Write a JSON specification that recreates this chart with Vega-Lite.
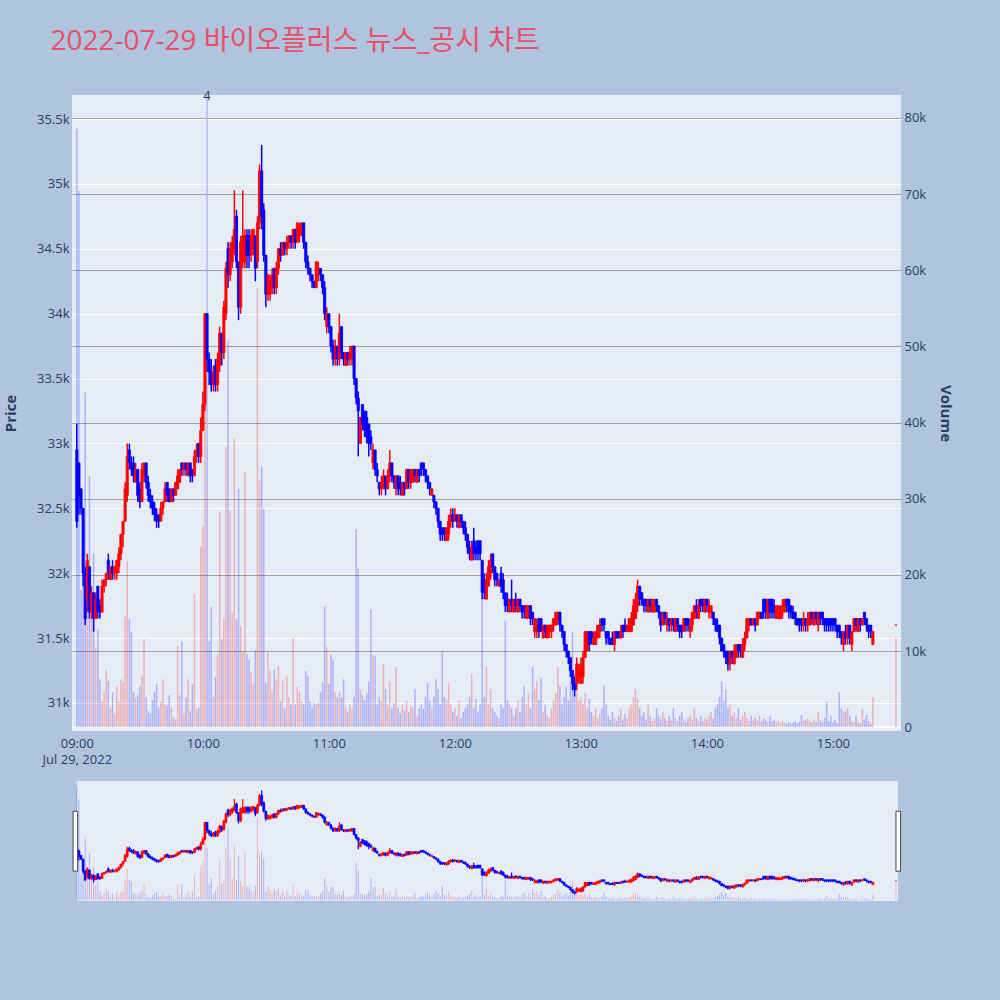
{
  "$schema": "https://vega.github.io/schema/vega-lite/v6.json",
  "background": "#b0c4de",
  "padding": {"left": 3, "top": 28, "right": 47, "bottom": 100},
  "title": {
    "text": "2022-07-29 바이오플러스 뉴스_공시 차트",
    "anchor": "start",
    "dx": 47,
    "offset": 34,
    "fontSize": 28,
    "fontWeight": "normal",
    "font": "Open Sans, Noto Sans CJK KR",
    "color": "#e8506a"
  },
  "config": {
    "view": {"stroke": null},
    "axis": {"labelFont": "Open Sans", "titleFont": "Open Sans", "labelColor": "#2a3f5f", "titleColor": "#2a3f5f"}
  },
  "spacing": 15,
  "datasets": {
    "k": [
      {"m":0,"o":32950,"h":33150,"l":32350,"c":32400,"v":78600},
      {"m":1,"o":32850,"h":32850,"l":32450,"c":32600,"v":70400},
      {"m":2,"o":32650,"h":32650,"l":32450,"c":32500,"v":18000},
      {"m":3,"o":32500,"h":32500,"l":31900,"c":32000,"v":26000},
      {"m":4,"o":32000,"h":32050,"l":31600,"c":31650,"v":44000},
      {"m":5,"o":31800,"h":32150,"l":31700,"c":32100,"v":22800},
      {"m":6,"o":32050,"h":32050,"l":31650,"c":31700,"v":33000},
      {"m":7,"o":31700,"h":31900,"l":31650,"c":31850,"v":14600},
      {"m":8,"o":31850,"h":31850,"l":31550,"c":31650,"v":22800},
      {"m":9,"o":31650,"h":31850,"l":31650,"c":31800,"v":10500},
      {"m":10,"o":31900,"h":31900,"l":31650,"c":31700,"v":12900},
      {"m":11,"o":31750,"h":31800,"l":31650,"c":31700,"v":6300},
      {"m":12,"o":31700,"h":31950,"l":31700,"c":31900,"v":3400},
      {"m":13,"o":31900,"h":31950,"l":31850,"c":31950,"v":4700},
      {"m":14,"o":31950,"h":32000,"l":31900,"c":32000,"v":7600},
      {"m":15,"o":32100,"h":32150,"l":31950,"c":32000,"v":6100},
      {"m":16,"o":31950,"h":32050,"l":31950,"c":32050,"v":2600},
      {"m":17,"o":32050,"h":32100,"l":31950,"c":32000,"v":4600},
      {"m":18,"o":32000,"h":32050,"l":31950,"c":32050,"v":1800},
      {"m":19,"o":32000,"h":32100,"l":31950,"c":32100,"v":5400},
      {"m":20,"o":32050,"h":32200,"l":32000,"c":32150,"v":3400},
      {"m":21,"o":32150,"h":32300,"l":32100,"c":32300,"v":6300},
      {"m":22,"o":32300,"h":32400,"l":32200,"c":32400,"v":5900},
      {"m":23,"o":32400,"h":32700,"l":32400,"c":32650,"v":14500},
      {"m":24,"o":32600,"h":33000,"l":32550,"c":32900,"v":21800},
      {"m":25,"o":32950,"h":33000,"l":32800,"c":32850,"v":14200},
      {"m":26,"o":32850,"h":32900,"l":32750,"c":32800,"v":12500},
      {"m":27,"o":32850,"h":32900,"l":32700,"c":32750,"v":4600},
      {"m":28,"o":32700,"h":32850,"l":32700,"c":32800,"v":3900},
      {"m":29,"o":32800,"h":32800,"l":32550,"c":32600,"v":4200},
      {"m":30,"o":32650,"h":32700,"l":32500,"c":32550,"v":5400},
      {"m":31,"o":32550,"h":32850,"l":32550,"c":32800,"v":6700},
      {"m":32,"o":32750,"h":32850,"l":32700,"c":32850,"v":11600},
      {"m":33,"o":32850,"h":32850,"l":32650,"c":32700,"v":3900},
      {"m":34,"o":32700,"h":32750,"l":32550,"c":32600,"v":2100},
      {"m":35,"o":32600,"h":32650,"l":32500,"c":32550,"v":1800},
      {"m":36,"o":32550,"h":32600,"l":32450,"c":32500,"v":3600},
      {"m":37,"o":32500,"h":32550,"l":32400,"c":32450,"v":4600},
      {"m":38,"o":32450,"h":32500,"l":32350,"c":32400,"v":5700},
      {"m":39,"o":32450,"h":32450,"l":32350,"c":32400,"v":2600},
      {"m":40,"o":32400,"h":32550,"l":32400,"c":32500,"v":3400},
      {"m":41,"o":32500,"h":32550,"l":32450,"c":32550,"v":6300},
      {"m":42,"o":32550,"h":32700,"l":32550,"c":32650,"v":3000},
      {"m":43,"o":32700,"h":32700,"l":32550,"c":32600,"v":2900},
      {"m":44,"o":32650,"h":32650,"l":32550,"c":32550,"v":4200},
      {"m":45,"o":32550,"h":32650,"l":32550,"c":32650,"v":2600},
      {"m":46,"o":32650,"h":32650,"l":32550,"c":32600,"v":1300},
      {"m":47,"o":32600,"h":32700,"l":32600,"c":32700,"v":1000},
      {"m":48,"o":32650,"h":32800,"l":32650,"c":32750,"v":10700},
      {"m":49,"o":32700,"h":32800,"l":32700,"c":32800,"v":4200},
      {"m":50,"o":32850,"h":32850,"l":32750,"c":32800,"v":11300},
      {"m":51,"o":32800,"h":32850,"l":32750,"c":32850,"v":1800},
      {"m":52,"o":32850,"h":32850,"l":32750,"c":32800,"v":3900},
      {"m":53,"o":32750,"h":32850,"l":32750,"c":32850,"v":6300},
      {"m":54,"o":32850,"h":32850,"l":32700,"c":32750,"v":2100},
      {"m":55,"o":32800,"h":32800,"l":32700,"c":32750,"v":5700},
      {"m":56,"o":32750,"h":32950,"l":32750,"c":32900,"v":17500},
      {"m":57,"o":32900,"h":33000,"l":32850,"c":32950,"v":2400},
      {"m":58,"o":33000,"h":33000,"l":32850,"c":32900,"v":2600},
      {"m":59,"o":32900,"h":33200,"l":32850,"c":33100,"v":23700},
      {"m":60,"o":33100,"h":33400,"l":33100,"c":33300,"v":26500},
      {"m":61,"o":33300,"h":34000,"l":33250,"c":34000,"v":45000},
      {"m":62,"o":34000,"h":34000,"l":33550,"c":33650,"v":36600},
      {"m":63,"o":33650,"h":33700,"l":33450,"c":33550,"v":11300},
      {"m":64,"o":33550,"h":33650,"l":33400,"c":33450,"v":15800},
      {"m":65,"o":33450,"h":33600,"l":33400,"c":33550,"v":4000},
      {"m":66,"o":33600,"h":33650,"l":33400,"c":33450,"v":6600},
      {"m":67,"o":33450,"h":33700,"l":33400,"c":33650,"v":9600},
      {"m":68,"o":33600,"h":33900,"l":33550,"c":33850,"v":28300},
      {"m":69,"o":33850,"h":33850,"l":33600,"c":33700,"v":11600},
      {"m":70,"o":33700,"h":34100,"l":33650,"c":34050,"v":14200},
      {"m":71,"o":34000,"h":34400,"l":33950,"c":34350,"v":36800},
      {"m":72,"o":34500,"h":34550,"l":34200,"c":34300,"v":50800},
      {"m":73,"o":34300,"h":34550,"l":34250,"c":34500,"v":28400},
      {"m":74,"o":34400,"h":34600,"l":34350,"c":34550,"v":15100},
      {"m":75,"o":34500,"h":34950,"l":34450,"c":34650,"v":37900},
      {"m":76,"o":34750,"h":34800,"l":34350,"c":34400,"v":14200},
      {"m":77,"o":34400,"h":34400,"l":33950,"c":34050,"v":31300},
      {"m":78,"o":34050,"h":34600,"l":34000,"c":34550,"v":13300},
      {"m":79,"o":34400,"h":34950,"l":34350,"c":34600,"v":9900},
      {"m":80,"o":34400,"h":34650,"l":34350,"c":34600,"v":33600},
      {"m":81,"o":34600,"h":34650,"l":34350,"c":34450,"v":9600},
      {"m":82,"o":34600,"h":34650,"l":34350,"c":34450,"v":8900},
      {"m":83,"o":34450,"h":34650,"l":34400,"c":34600,"v":7200},
      {"m":84,"o":34500,"h":34650,"l":34450,"c":34650,"v":5700},
      {"m":85,"o":34600,"h":34600,"l":34250,"c":34350,"v":10100},
      {"m":86,"o":34400,"h":34750,"l":34350,"c":34700,"v":57600},
      {"m":87,"o":34700,"h":35150,"l":34650,"c":35100,"v":32400},
      {"m":88,"o":35100,"h":35300,"l":34650,"c":34750,"v":34200},
      {"m":89,"o":34800,"h":34850,"l":34400,"c":34450,"v":28700},
      {"m":90,"o":34450,"h":34450,"l":34050,"c":34150,"v":5900},
      {"m":91,"o":34150,"h":34300,"l":34100,"c":34300,"v":9900},
      {"m":92,"o":34150,"h":34300,"l":34100,"c":34250,"v":7600},
      {"m":93,"o":34200,"h":34350,"l":34150,"c":34300,"v":4700},
      {"m":94,"o":34350,"h":34350,"l":34150,"c":34200,"v":7600},
      {"m":95,"o":34200,"h":34400,"l":34150,"c":34350,"v":6300},
      {"m":96,"o":34350,"h":34500,"l":34300,"c":34500,"v":8000},
      {"m":97,"o":34500,"h":34550,"l":34400,"c":34450,"v":3400},
      {"m":98,"o":34450,"h":34550,"l":34450,"c":34550,"v":6100},
      {"m":99,"o":34550,"h":34550,"l":34450,"c":34500,"v":2500},
      {"m":100,"o":34500,"h":34600,"l":34450,"c":34550,"v":6700},
      {"m":101,"o":34550,"h":34600,"l":34500,"c":34600,"v":3900},
      {"m":102,"o":34600,"h":34600,"l":34500,"c":34550,"v":3000},
      {"m":103,"o":34550,"h":34650,"l":34500,"c":34650,"v":11700},
      {"m":104,"o":34650,"h":34650,"l":34500,"c":34550,"v":3000},
      {"m":105,"o":34550,"h":34700,"l":34550,"c":34700,"v":5300},
      {"m":106,"o":34600,"h":34700,"l":34550,"c":34650,"v":4700},
      {"m":107,"o":34600,"h":34700,"l":34600,"c":34700,"v":3400},
      {"m":108,"o":34700,"h":34700,"l":34500,"c":34550,"v":3000},
      {"m":109,"o":34550,"h":34550,"l":34350,"c":34400,"v":7400},
      {"m":110,"o":34400,"h":34450,"l":34300,"c":34350,"v":6700},
      {"m":111,"o":34350,"h":34350,"l":34250,"c":34300,"v":3400},
      {"m":112,"o":34300,"h":34300,"l":34200,"c":34250,"v":2600},
      {"m":113,"o":34250,"h":34250,"l":34200,"c":34200,"v":3200},
      {"m":114,"o":34200,"h":34400,"l":34200,"c":34400,"v":3000},
      {"m":115,"o":34300,"h":34400,"l":34250,"c":34350,"v":3200},
      {"m":116,"o":34350,"h":34350,"l":34250,"c":34300,"v":4600},
      {"m":117,"o":34300,"h":34300,"l":34150,"c":34200,"v":5900},
      {"m":118,"o":34200,"h":34250,"l":33950,"c":34000,"v":15900},
      {"m":119,"o":33900,"h":34050,"l":33850,"c":34000,"v":10500},
      {"m":120,"o":34000,"h":34000,"l":33850,"c":33900,"v":5700},
      {"m":121,"o":33900,"h":33900,"l":33700,"c":33750,"v":9600},
      {"m":122,"o":33750,"h":33800,"l":33600,"c":33650,"v":8900},
      {"m":123,"o":33650,"h":33800,"l":33600,"c":33750,"v":4600},
      {"m":124,"o":33750,"h":33750,"l":33600,"c":33650,"v":3900},
      {"m":125,"o":33650,"h":34000,"l":33600,"c":33850,"v":4700},
      {"m":126,"o":33900,"h":33900,"l":33650,"c":33700,"v":3900},
      {"m":127,"o":33700,"h":33700,"l":33600,"c":33650,"v":6300},
      {"m":128,"o":33600,"h":33700,"l":33600,"c":33700,"v":2600},
      {"m":129,"o":33700,"h":33700,"l":33600,"c":33650,"v":2000},
      {"m":130,"o":33650,"h":33750,"l":33600,"c":33700,"v":3000},
      {"m":131,"o":33650,"h":33750,"l":33600,"c":33750,"v":2500},
      {"m":132,"o":33750,"h":33750,"l":33450,"c":33500,"v":4000},
      {"m":133,"o":33500,"h":33500,"l":33300,"c":33350,"v":26000},
      {"m":134,"o":33350,"h":33400,"l":32900,"c":33250,"v":20800},
      {"m":135,"o":33000,"h":33200,"l":33000,"c":33200,"v":5000},
      {"m":136,"o":33300,"h":33300,"l":33100,"c":33150,"v":4200},
      {"m":137,"o":33250,"h":33250,"l":33050,"c":33100,"v":3500},
      {"m":138,"o":33200,"h":33250,"l":33000,"c":33050,"v":4500},
      {"m":139,"o":33150,"h":33150,"l":32900,"c":33000,"v":6000},
      {"m":140,"o":33050,"h":33100,"l":32950,"c":33000,"v":15500},
      {"m":141,"o":32850,"h":33000,"l":32800,"c":32950,"v":9500},
      {"m":142,"o":32950,"h":32950,"l":32750,"c":32800,"v":9400},
      {"m":143,"o":32800,"h":32850,"l":32700,"c":32750,"v":3000},
      {"m":144,"o":32700,"h":32700,"l":32600,"c":32650,"v":4000},
      {"m":145,"o":32650,"h":32750,"l":32600,"c":32700,"v":3500},
      {"m":146,"o":32650,"h":32800,"l":32650,"c":32750,"v":8300},
      {"m":147,"o":32750,"h":32750,"l":32600,"c":32650,"v":5000},
      {"m":148,"o":32650,"h":32800,"l":32650,"c":32750,"v":3000},
      {"m":149,"o":32750,"h":32950,"l":32700,"c":32850,"v":6000},
      {"m":150,"o":32850,"h":32850,"l":32700,"c":32750,"v":2500},
      {"m":151,"o":32750,"h":32750,"l":32650,"c":32700,"v":3200},
      {"m":152,"o":32650,"h":32750,"l":32600,"c":32750,"v":7900},
      {"m":153,"o":32750,"h":32750,"l":32600,"c":32650,"v":2500},
      {"m":154,"o":32700,"h":32750,"l":32600,"c":32650,"v":1800},
      {"m":155,"o":32600,"h":32700,"l":32600,"c":32700,"v":3000},
      {"m":156,"o":32700,"h":32700,"l":32600,"c":32650,"v":2200},
      {"m":157,"o":32650,"h":32800,"l":32650,"c":32800,"v":3500},
      {"m":158,"o":32800,"h":32800,"l":32650,"c":32700,"v":2000},
      {"m":159,"o":32700,"h":32800,"l":32650,"c":32800,"v":2800},
      {"m":160,"o":32700,"h":32800,"l":32700,"c":32800,"v":2600},
      {"m":161,"o":32800,"h":32800,"l":32700,"c":32750,"v":5000},
      {"m":162,"o":32700,"h":32800,"l":32700,"c":32800,"v":1500},
      {"m":163,"o":32800,"h":32800,"l":32700,"c":32750,"v":2500},
      {"m":164,"o":32850,"h":32850,"l":32750,"c":32800,"v":3000},
      {"m":165,"o":32850,"h":32850,"l":32750,"c":32800,"v":2400},
      {"m":166,"o":32800,"h":32800,"l":32700,"c":32750,"v":4000},
      {"m":167,"o":32750,"h":32750,"l":32650,"c":32700,"v":5900},
      {"m":168,"o":32700,"h":32700,"l":32600,"c":32650,"v":3500},
      {"m":169,"o":32600,"h":32650,"l":32600,"c":32650,"v":2500},
      {"m":170,"o":32600,"h":32600,"l":32500,"c":32550,"v":4000},
      {"m":171,"o":32550,"h":32550,"l":32450,"c":32500,"v":6300},
      {"m":172,"o":32500,"h":32500,"l":32350,"c":32400,"v":5000},
      {"m":173,"o":32400,"h":32400,"l":32250,"c":32300,"v":3000},
      {"m":174,"o":32350,"h":32350,"l":32250,"c":32300,"v":10000},
      {"m":175,"o":32350,"h":32350,"l":32250,"c":32300,"v":4000},
      {"m":176,"o":32250,"h":32350,"l":32250,"c":32350,"v":3500},
      {"m":177,"o":32300,"h":32450,"l":32250,"c":32400,"v":5800},
      {"m":178,"o":32400,"h":32500,"l":32350,"c":32450,"v":3000},
      {"m":179,"o":32450,"h":32500,"l":32350,"c":32400,"v":2000},
      {"m":180,"o":32400,"h":32500,"l":32400,"c":32450,"v":2500},
      {"m":181,"o":32450,"h":32450,"l":32350,"c":32400,"v":1500},
      {"m":182,"o":32350,"h":32450,"l":32350,"c":32450,"v":3500},
      {"m":183,"o":32450,"h":32450,"l":32350,"c":32400,"v":1200},
      {"m":184,"o":32400,"h":32400,"l":32300,"c":32350,"v":2000},
      {"m":185,"o":32350,"h":32400,"l":32250,"c":32300,"v":2500},
      {"m":186,"o":32300,"h":32300,"l":32150,"c":32200,"v":3000},
      {"m":187,"o":32200,"h":32250,"l":32100,"c":32150,"v":4000},
      {"m":188,"o":32100,"h":32250,"l":32100,"c":32200,"v":7000},
      {"m":189,"o":32250,"h":32350,"l":32100,"c":32150,"v":2500},
      {"m":190,"o":32200,"h":32250,"l":32100,"c":32150,"v":3700},
      {"m":191,"o":32250,"h":32250,"l":32100,"c":32150,"v":2000},
      {"m":192,"o":32250,"h":32250,"l":32100,"c":32150,"v":3000},
      {"m":193,"o":32100,"h":32100,"l":31800,"c":31850,"v":18000},
      {"m":194,"o":31950,"h":32000,"l":31800,"c":31850,"v":4000},
      {"m":195,"o":31800,"h":32000,"l":31800,"c":31950,"v":8000},
      {"m":196,"o":31900,"h":32100,"l":31900,"c":32050,"v":3000},
      {"m":197,"o":32000,"h":32150,"l":31950,"c":32100,"v":5000},
      {"m":198,"o":32150,"h":32150,"l":32000,"c":32050,"v":2500},
      {"m":199,"o":32050,"h":32050,"l":31900,"c":31950,"v":2000},
      {"m":200,"o":32000,"h":32000,"l":31900,"c":31950,"v":1500},
      {"m":201,"o":31900,"h":31950,"l":31900,"c":31950,"v":1200},
      {"m":202,"o":32000,"h":32050,"l":31850,"c":31900,"v":3000},
      {"m":203,"o":31950,"h":32000,"l":31800,"c":31850,"v":2500},
      {"m":204,"o":31850,"h":31850,"l":31700,"c":31750,"v":14000},
      {"m":205,"o":31800,"h":31850,"l":31700,"c":31750,"v":3500},
      {"m":206,"o":31700,"h":31800,"l":31700,"c":31800,"v":3000},
      {"m":207,"o":31800,"h":31950,"l":31700,"c":31750,"v":2500},
      {"m":208,"o":31700,"h":31800,"l":31700,"c":31800,"v":1500},
      {"m":209,"o":31800,"h":31850,"l":31700,"c":31750,"v":2500},
      {"m":210,"o":31700,"h":31800,"l":31700,"c":31800,"v":3500},
      {"m":211,"o":31800,"h":31800,"l":31700,"c":31750,"v":2000},
      {"m":212,"o":31750,"h":31750,"l":31650,"c":31700,"v":4000},
      {"m":213,"o":31750,"h":31750,"l":31650,"c":31700,"v":5400},
      {"m":214,"o":31650,"h":31750,"l":31650,"c":31750,"v":3000},
      {"m":215,"o":31700,"h":31750,"l":31650,"c":31750,"v":4500},
      {"m":216,"o":31750,"h":31750,"l":31600,"c":31650,"v":2500},
      {"m":217,"o":31700,"h":31700,"l":31600,"c":31650,"v":7900},
      {"m":218,"o":31550,"h":31650,"l":31500,"c":31650,"v":5100},
      {"m":219,"o":31550,"h":31650,"l":31500,"c":31600,"v":6000},
      {"m":220,"o":31650,"h":31650,"l":31500,"c":31550,"v":3500},
      {"m":221,"o":31650,"h":31650,"l":31550,"c":31550,"v":6500},
      {"m":222,"o":31500,"h":31600,"l":31500,"c":31600,"v":2000},
      {"m":223,"o":31600,"h":31600,"l":31500,"c":31550,"v":3000},
      {"m":224,"o":31500,"h":31600,"l":31500,"c":31600,"v":1500},
      {"m":225,"o":31550,"h":31600,"l":31500,"c":31600,"v":1200},
      {"m":226,"o":31550,"h":31600,"l":31500,"c":31600,"v":2500},
      {"m":227,"o":31600,"h":31650,"l":31550,"c":31650,"v":3500},
      {"m":228,"o":31600,"h":31700,"l":31600,"c":31700,"v":4500},
      {"m":229,"o":31650,"h":31700,"l":31600,"c":31700,"v":7900},
      {"m":230,"o":31700,"h":31700,"l":31550,"c":31600,"v":5500},
      {"m":231,"o":31600,"h":31600,"l":31500,"c":31550,"v":3000},
      {"m":232,"o":31550,"h":31550,"l":31400,"c":31450,"v":4000},
      {"m":233,"o":31450,"h":31450,"l":31350,"c":31400,"v":5400},
      {"m":234,"o":31400,"h":31400,"l":31300,"c":31350,"v":3500},
      {"m":235,"o":31350,"h":31350,"l":31200,"c":31250,"v":6000},
      {"m":236,"o":31250,"h":31250,"l":31100,"c":31150,"v":12500},
      {"m":237,"o":31150,"h":31200,"l":31050,"c":31100,"v":7000},
      {"m":238,"o":31150,"h":31350,"l":31100,"c":31300,"v":5000},
      {"m":239,"o":31200,"h":31300,"l":31150,"c":31250,"v":3500},
      {"m":240,"o":31150,"h":31350,"l":31150,"c":31300,"v":4000},
      {"m":241,"o":31200,"h":31400,"l":31150,"c":31350,"v":3000},
      {"m":242,"o":31350,"h":31550,"l":31350,"c":31550,"v":4500},
      {"m":243,"o":31400,"h":31550,"l":31400,"c":31550,"v":2500},
      {"m":244,"o":31550,"h":31550,"l":31400,"c":31450,"v":3700},
      {"m":245,"o":31550,"h":31550,"l":31450,"c":31500,"v":2000},
      {"m":246,"o":31450,"h":31550,"l":31450,"c":31500,"v":1500},
      {"m":247,"o":31450,"h":31550,"l":31450,"c":31550,"v":2500},
      {"m":248,"o":31500,"h":31600,"l":31500,"c":31600,"v":1200},
      {"m":249,"o":31550,"h":31650,"l":31500,"c":31600,"v":1800},
      {"m":250,"o":31650,"h":31650,"l":31550,"c":31600,"v":2500},
      {"m":251,"o":31650,"h":31650,"l":31550,"c":31600,"v":5500},
      {"m":252,"o":31550,"h":31550,"l":31450,"c":31500,"v":3000},
      {"m":253,"o":31550,"h":31550,"l":31450,"c":31500,"v":1500},
      {"m":254,"o":31500,"h":31500,"l":31450,"c":31450,"v":1000},
      {"m":255,"o":31500,"h":31550,"l":31450,"c":31450,"v":2000},
      {"m":256,"o":31450,"h":31550,"l":31400,"c":31550,"v":1200},
      {"m":257,"o":31550,"h":31550,"l":31500,"c":31500,"v":800},
      {"m":258,"o":31550,"h":31550,"l":31500,"c":31500,"v":1500},
      {"m":259,"o":31500,"h":31600,"l":31500,"c":31550,"v":2500},
      {"m":260,"o":31600,"h":31600,"l":31500,"c":31550,"v":1000},
      {"m":261,"o":31600,"h":31650,"l":31550,"c":31550,"v":1800},
      {"m":262,"o":31550,"h":31600,"l":31550,"c":31600,"v":1200},
      {"m":263,"o":31550,"h":31650,"l":31550,"c":31650,"v":2500},
      {"m":264,"o":31550,"h":31700,"l":31550,"c":31650,"v":3000},
      {"m":265,"o":31600,"h":31800,"l":31600,"c":31750,"v":4000},
      {"m":266,"o":31650,"h":31850,"l":31650,"c":31800,"v":5000},
      {"m":267,"o":31750,"h":31950,"l":31700,"c":31900,"v":3700},
      {"m":268,"o":31900,"h":31900,"l":31750,"c":31800,"v":2500},
      {"m":269,"o":31850,"h":31850,"l":31750,"c":31800,"v":1500},
      {"m":270,"o":31800,"h":31800,"l":31700,"c":31750,"v":2000},
      {"m":271,"o":31800,"h":31800,"l":31700,"c":31750,"v":1000},
      {"m":272,"o":31700,"h":31800,"l":31700,"c":31800,"v":3000},
      {"m":273,"o":31800,"h":31800,"l":31700,"c":31750,"v":1500},
      {"m":274,"o":31700,"h":31800,"l":31700,"c":31800,"v":800},
      {"m":275,"o":31700,"h":31800,"l":31700,"c":31750,"v":1200},
      {"m":276,"o":31800,"h":31800,"l":31700,"c":31750,"v":2500},
      {"m":277,"o":31750,"h":31750,"l":31650,"c":31700,"v":1500},
      {"m":278,"o":31700,"h":31700,"l":31550,"c":31600,"v":1000},
      {"m":279,"o":31600,"h":31700,"l":31600,"c":31700,"v":2000},
      {"m":280,"o":31700,"h":31700,"l":31600,"c":31650,"v":1200},
      {"m":281,"o":31600,"h":31700,"l":31550,"c":31650,"v":800},
      {"m":282,"o":31650,"h":31650,"l":31550,"c":31600,"v":1500},
      {"m":283,"o":31600,"h":31650,"l":31550,"c":31650,"v":1000},
      {"m":284,"o":31650,"h":31650,"l":31550,"c":31600,"v":2500},
      {"m":285,"o":31550,"h":31650,"l":31550,"c":31650,"v":1200},
      {"m":286,"o":31650,"h":31650,"l":31550,"c":31600,"v":800},
      {"m":287,"o":31600,"h":31600,"l":31500,"c":31550,"v":1500},
      {"m":288,"o":31600,"h":31600,"l":31500,"c":31550,"v":2000},
      {"m":289,"o":31550,"h":31650,"l":31550,"c":31650,"v":1000},
      {"m":290,"o":31650,"h":31650,"l":31550,"c":31600,"v":700},
      {"m":291,"o":31650,"h":31650,"l":31550,"c":31600,"v":1200},
      {"m":292,"o":31550,"h":31650,"l":31500,"c":31600,"v":1500},
      {"m":293,"o":31600,"h":31700,"l":31550,"c":31700,"v":1000},
      {"m":294,"o":31650,"h":31750,"l":31650,"c":31750,"v":2500},
      {"m":295,"o":31750,"h":31800,"l":31650,"c":31700,"v":1200},
      {"m":296,"o":31650,"h":31800,"l":31650,"c":31750,"v":900},
      {"m":297,"o":31800,"h":31800,"l":31700,"c":31750,"v":1500},
      {"m":298,"o":31800,"h":31800,"l":31700,"c":31750,"v":800},
      {"m":299,"o":31700,"h":31800,"l":31700,"c":31800,"v":1200},
      {"m":300,"o":31800,"h":31800,"l":31700,"c":31750,"v":1000},
      {"m":301,"o":31700,"h":31800,"l":31650,"c":31750,"v":1500},
      {"m":302,"o":31700,"h":31750,"l":31650,"c":31750,"v":2000},
      {"m":303,"o":31700,"h":31700,"l":31600,"c":31650,"v":1200},
      {"m":304,"o":31650,"h":31650,"l":31550,"c":31600,"v":2500},
      {"m":305,"o":31600,"h":31650,"l":31550,"c":31550,"v":3000},
      {"m":306,"o":31600,"h":31600,"l":31450,"c":31500,"v":4000},
      {"m":307,"o":31500,"h":31500,"l":31400,"c":31400,"v":6000},
      {"m":308,"o":31450,"h":31450,"l":31350,"c":31400,"v":3500},
      {"m":309,"o":31400,"h":31400,"l":31300,"c":31350,"v":5000},
      {"m":310,"o":31400,"h":31400,"l":31250,"c":31300,"v":2500},
      {"m":311,"o":31300,"h":31400,"l":31250,"c":31400,"v":3000},
      {"m":312,"o":31400,"h":31400,"l":31300,"c":31350,"v":1500},
      {"m":313,"o":31300,"h":31450,"l":31300,"c":31400,"v":2000},
      {"m":314,"o":31350,"h":31450,"l":31350,"c":31450,"v":1200},
      {"m":315,"o":31450,"h":31450,"l":31350,"c":31400,"v":2500},
      {"m":316,"o":31450,"h":31450,"l":31350,"c":31400,"v":1000},
      {"m":317,"o":31350,"h":31500,"l":31350,"c":31450,"v":1500},
      {"m":318,"o":31450,"h":31550,"l":31400,"c":31500,"v":2000},
      {"m":319,"o":31500,"h":31650,"l":31500,"c":31650,"v":1200},
      {"m":320,"o":31600,"h":31650,"l":31550,"c":31650,"v":800},
      {"m":321,"o":31650,"h":31650,"l":31600,"c":31600,"v":1500},
      {"m":322,"o":31600,"h":31650,"l":31600,"c":31650,"v":1000},
      {"m":323,"o":31650,"h":31650,"l":31550,"c":31600,"v":1200},
      {"m":324,"o":31600,"h":31700,"l":31600,"c":31700,"v":900},
      {"m":325,"o":31650,"h":31700,"l":31650,"c":31700,"v":1500},
      {"m":326,"o":31700,"h":31700,"l":31650,"c":31650,"v":800},
      {"m":327,"o":31800,"h":31800,"l":31650,"c":31700,"v":1200},
      {"m":328,"o":31800,"h":31800,"l":31650,"c":31700,"v":1000},
      {"m":329,"o":31650,"h":31800,"l":31650,"c":31800,"v":700},
      {"m":330,"o":31800,"h":31800,"l":31650,"c":31700,"v":1500},
      {"m":331,"o":31800,"h":31800,"l":31650,"c":31700,"v":800},
      {"m":332,"o":31750,"h":31800,"l":31650,"c":31700,"v":1000},
      {"m":333,"o":31650,"h":31750,"l":31650,"c":31750,"v":600},
      {"m":334,"o":31650,"h":31750,"l":31650,"c":31750,"v":900},
      {"m":335,"o":31650,"h":31750,"l":31650,"c":31700,"v":500},
      {"m":336,"o":31700,"h":31800,"l":31650,"c":31750,"v":800},
      {"m":337,"o":31700,"h":31800,"l":31700,"c":31800,"v":600},
      {"m":338,"o":31800,"h":31800,"l":31700,"c":31750,"v":500},
      {"m":339,"o":31800,"h":31800,"l":31650,"c":31700,"v":700},
      {"m":340,"o":31750,"h":31750,"l":31650,"c":31700,"v":500},
      {"m":341,"o":31700,"h":31750,"l":31650,"c":31650,"v":600},
      {"m":342,"o":31700,"h":31700,"l":31600,"c":31650,"v":800},
      {"m":343,"o":31650,"h":31650,"l":31600,"c":31600,"v":500},
      {"m":344,"o":31650,"h":31650,"l":31550,"c":31600,"v":700},
      {"m":345,"o":31650,"h":31650,"l":31550,"c":31600,"v":1600},
      {"m":346,"o":31600,"h":31700,"l":31550,"c":31650,"v":1000},
      {"m":347,"o":31650,"h":31650,"l":31550,"c":31600,"v":900},
      {"m":348,"o":31600,"h":31700,"l":31550,"c":31650,"v":1200},
      {"m":349,"o":31600,"h":31700,"l":31600,"c":31700,"v":800},
      {"m":350,"o":31700,"h":31700,"l":31600,"c":31650,"v":600},
      {"m":351,"o":31600,"h":31700,"l":31600,"c":31700,"v":1000},
      {"m":352,"o":31700,"h":31700,"l":31600,"c":31650,"v":700},
      {"m":353,"o":31600,"h":31700,"l":31550,"c":31700,"v":2000},
      {"m":354,"o":31700,"h":31700,"l":31600,"c":31650,"v":900},
      {"m":355,"o":31700,"h":31700,"l":31600,"c":31650,"v":600},
      {"m":356,"o":31650,"h":31650,"l":31550,"c":31600,"v":1200},
      {"m":357,"o":31650,"h":31650,"l":31550,"c":31600,"v":3400},
      {"m":358,"o":31650,"h":31650,"l":31550,"c":31600,"v":800},
      {"m":359,"o":31650,"h":31650,"l":31550,"c":31600,"v":1500},
      {"m":360,"o":31650,"h":31650,"l":31550,"c":31600,"v":700},
      {"m":361,"o":31650,"h":31650,"l":31550,"c":31600,"v":1000},
      {"m":362,"o":31600,"h":31600,"l":31500,"c":31550,"v":600},
      {"m":363,"o":31600,"h":31600,"l":31500,"c":31550,"v":4600},
      {"m":364,"o":31550,"h":31550,"l":31450,"c":31500,"v":2500},
      {"m":365,"o":31450,"h":31550,"l":31400,"c":31550,"v":2200},
      {"m":366,"o":31550,"h":31600,"l":31450,"c":31500,"v":2000},
      {"m":367,"o":31500,"h":31600,"l":31450,"c":31600,"v":2500},
      {"m":368,"o":31600,"h":31600,"l":31450,"c":31500,"v":1500},
      {"m":369,"o":31450,"h":31550,"l":31400,"c":31550,"v":800},
      {"m":370,"o":31550,"h":31650,"l":31550,"c":31650,"v":600},
      {"m":371,"o":31650,"h":31650,"l":31550,"c":31600,"v":1500},
      {"m":372,"o":31550,"h":31650,"l":31550,"c":31650,"v":700},
      {"m":373,"o":31650,"h":31650,"l":31550,"c":31600,"v":500},
      {"m":374,"o":31600,"h":31650,"l":31600,"c":31650,"v":2400},
      {"m":375,"o":31700,"h":31700,"l":31600,"c":31650,"v":1000},
      {"m":376,"o":31650,"h":31650,"l":31550,"c":31600,"v":1600},
      {"m":377,"o":31600,"h":31600,"l":31500,"c":31550,"v":800},
      {"m":378,"o":31600,"h":31600,"l":31500,"c":31550,"v":500},
      {"m":379,"o":31450,"h":31550,"l":31450,"c":31550,"v":3900},
      {"m":390,"o":31600,"h":31600,"l":31600,"c":31600,"v":11800}
    ]
  },
  "vconcat": [
    {
      "width": 829,
      "height": 636,
      "view": {"fill": "#e5ecf6", "stroke": null},
      "data": {"name": "k"},
      "layer": [
        {
          "layer": [
            {
              "data": {"values": [{}]},
              "mark": {"type": "rule", "color": "white", "strokeWidth": 2},
              "encoding": {"y": {"datum": 0}}
            },
            {
              "mark": {"type": "bar", "size": 1.5, "opacity": 0.25, "clip": true},
              "encoding": {
                "x": {
                  "field": "m",
                  "type": "quantitative",
                  "scale": {"domain": [-2.3, 392.4], "nice": false, "zero": false, "padding": 0},
                  "axis": {
                    "title": null,
                    "values": [0, 60, 120, 180, 240, 300, 360],
                    "labelExpr": "datum.value == 0 ? ['09:00', 'Jul 29, 2022'] : format(datum.value / 60 + 9, '02d') + ':00'",
                    "grid": false,
                    "domain": false,
                    "ticks": false,
                    "labelPadding": 6,
                    "labelFontSize": 13,
                    "labelLineHeight": 16
                  }
                },
                "y": {
                  "field": "v",
                  "type": "quantitative",
                  "scale": {"domain": [-490, 83020], "nice": false, "zero": false},
                  "axis": {
                    "orient": "right",
                    "title": "Volume",
                    "values": [0, 10000, 20000, 30000, 40000, 50000, 60000, 70000, 80000],
                    "labelExpr": "datum.value == 0 ? '0' : format(datum.value, '~s')",
                    "grid": true,
                    "gridColor": "#a0a0a0",
                    "gridWidth": 1.2,
                    "domain": false,
                    "ticks": false,
                    "labelPadding": 3,
                    "labelFontSize": 13,
                    "titleFontSize": 15,
                    "titleFontWeight": "bold",
                    "titlePadding": 12
                  }
                },
                "y2": {"datum": 0},
                "color": {"condition": {"test": "datum.c >= datum.o", "value": "#ff0000"}, "value": "#0000ff"}
              }
            },
            {
              "transform": [{"filter": "datum.m == 62"}],
              "mark": {"type": "rule", "color": "#b4bcf0", "strokeWidth": 1.5},
              "encoding": {
                "x": {"field": "m", "type": "quantitative"},
                "y": {"field": "v", "type": "quantitative"},
                "y2": {"datum": 83020}
              }
            },
            {
              "transform": [{"filter": "datum.m == 62"}],
              "mark": {"type": "text", "text": "4", "fontSize": 13, "baseline": "middle", "color": "#2a3f5f", "font": "Open Sans", "dy": 1},
              "encoding": {
                "x": {"field": "m", "type": "quantitative"},
                "y": {"datum": 83020}
              }
            }
          ]
        },
        {
          "layer": [
            {
              "mark": {"type": "rule", "strokeWidth": 1.5},
              "encoding": {
                "x": {"field": "m", "type": "quantitative"},
                "y": {
                  "field": "l",
                  "type": "quantitative",
                  "scale": {"domain": [30784, 35685], "nice": false, "zero": false},
                  "axis": {
                    "orient": "left",
                    "title": "Price",
                    "values": [31000, 31500, 32000, 32500, 33000, 33500, 34000, 34500, 35000, 35500],
                    "format": "~s",
                    "grid": true,
                    "gridColor": "#ffffff",
                    "gridWidth": 1,
                    "domain": false,
                    "ticks": false,
                    "labelPadding": 3,
                    "labelFontSize": 13,
                    "titleFontSize": 15,
                    "titleFontWeight": "bold",
                    "titlePadding": 18
                  }
                },
                "y2": {"field": "h"},
                "color": {"condition": {"test": "datum.c >= datum.o", "value": "#ff0000"}, "value": "#0000ff"}
              }
            },
            {
              "mark": {"type": "bar", "size": 2.2, "strokeWidth": 0.8},
              "encoding": {
                "x": {"field": "m", "type": "quantitative"},
                "y": {"field": "o", "type": "quantitative"},
                "y2": {"field": "c"},
                "color": {"condition": {"test": "datum.c >= datum.o", "value": "#ff0000"}, "value": "#0000ff"},
                "stroke": {"condition": {"test": "datum.c >= datum.o", "value": "#ff0000"}, "value": "#0000ff"}
              }
            }
          ]
        }
      ],
      "resolve": {"scale": {"y": "independent"}}
    },
    {
      "width": 829,
      "height": 120,
      "view": {"fill": null, "stroke": null},
      "data": {"name": "k"},
      "layer": [
        {
          "layer": [
            {
              "data": {"values": [{}]},
              "mark": {"type": "rect", "color": "#e5ecf6"},
              "encoding": {
                "x": {"datum": 0, "type": "quantitative", "scale": {"domain": [-2.3, 392.4], "nice": false, "zero": false, "padding": 0}, "axis": null},
                "x2": {"datum": 391}
              }
            },
            {
              "mark": {"type": "bar", "size": 1, "opacity": 0.25},
              "encoding": {
                "x": {"field": "m", "type": "quantitative", "axis": null},
                "y": {"field": "v", "type": "quantitative", "scale": {"domain": [-490, 83020], "nice": false, "zero": false}, "axis": null},
                "y2": {"datum": 0},
                "color": {"condition": {"test": "datum.c >= datum.o", "value": "#ff0000"}, "value": "#0000ff"}
              }
            }
          ]
        },
        {
          "layer": [
            {
              "mark": {"type": "rule", "strokeWidth": 1.2},
              "encoding": {
                "x": {"field": "m", "type": "quantitative", "axis": null},
                "y": {"field": "l", "type": "quantitative", "scale": {"domain": [30784, 35685], "nice": false, "zero": false}, "axis": null},
                "y2": {"field": "h"},
                "color": {"condition": {"test": "datum.c >= datum.o", "value": "#ff0000"}, "value": "#0000ff"}
              }
            },
            {
              "mark": {"type": "bar", "size": 2, "strokeWidth": 0.6},
              "encoding": {
                "x": {"field": "m", "type": "quantitative", "axis": null},
                "y": {"field": "o", "type": "quantitative"},
                "y2": {"field": "c"},
                "color": {"condition": {"test": "datum.c >= datum.o", "value": "#ff0000"}, "value": "#0000ff"},
                "stroke": {"condition": {"test": "datum.c >= datum.o", "value": "#ff0000"}, "value": "#0000ff"}
              }
            },
            {
              "data": {"values": [{}]},
              "mark": {"type": "rect", "fill": "white", "stroke": "#444444", "strokeWidth": 1, "clip": false},
              "encoding": {
                "x": {"datum": -1.8},
                "x2": {"datum": 0.4},
                "y": {"datum": 34450},
                "y2": {"datum": 32000}
              }
            },
            {
              "data": {"values": [{}]},
              "mark": {"type": "rect", "fill": "white", "stroke": "#444444", "strokeWidth": 1, "clip": false},
              "encoding": {
                "x": {"datum": 390},
                "x2": {"datum": 392.2},
                "y": {"datum": 34450},
                "y2": {"datum": 32000}
              }
            }
          ]
        }
      ],
      "resolve": {"scale": {"y": "independent"}}
    }
  ]
}
